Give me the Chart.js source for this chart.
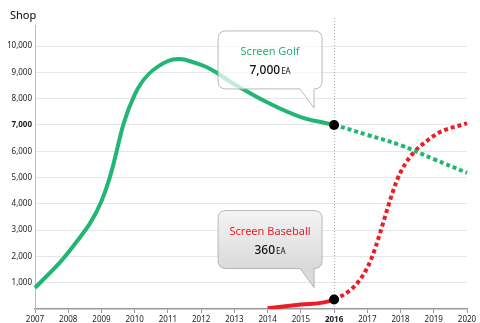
<!DOCTYPE html>
<html>
<head>
<meta charset="UTF-8">
<title>Shop</title>
<script src="https://cdn.jsdelivr.net/npm/chart.js"></script>
<style>
  html, body { margin: 0; padding: 0; background: #fff; }
</style>
</head>
<body>
<canvas id="shopChart" width="480" height="323"></canvas>
<script>
  const years = ['2007','2008','2009','2010','2011','2012','2013','2014','2015','2016','2017','2018','2019','2020'];
  const golfShops = [800, 2150, 4100, 8150, 9430, 9280, 8550, 7850, 7300, 7000, 6620, 6230, 5700, 5180];
  const baseballShops = [null, null, null, null, null, null, null, 30, 170, 360, 1570, 5200, 6580, 7070];
  const yTicks = [1000, 2000, 3000, 4000, 5000, 6000, 7000, 8000, 9000, 10000];
  const nowIndex = 9; // 2016

  const GREEN = '#22b573';
  const RED = '#ee1c25';
  const FONT = "'Noto Sans', sans-serif";

  // callout with a tail pointing near (px, py)
  function callout(ctx, px, py, dy, fill, title, color, value) {
    const w = 104, h = 58;
    const tipX = px - 20, tipY = py - dy;
    const bx = px - 116, by = tipY - 19 - h;
    ctx.save();
    ctx.beginPath();
    ctx.moveTo(bx + 8, by);
    ctx.lineTo(bx + w - 8, by);
    ctx.quadraticCurveTo(bx + w, by, bx + w, by + 8);
    ctx.lineTo(bx + w, by + h - 8);
    ctx.quadraticCurveTo(bx + w, by + h, bx + w - 8, by + h);
    ctx.lineTo(px - 20, by + h);
    ctx.lineTo(tipX, tipY);
    ctx.lineTo(px - 34, by + h);
    ctx.lineTo(bx + 8, by + h);
    ctx.quadraticCurveTo(bx, by + h, bx, by + h - 8);
    ctx.lineTo(bx, by + 8);
    ctx.quadraticCurveTo(bx, by, bx + 8, by);
    ctx.closePath();
    if (typeof fill === 'string') {
      ctx.fillStyle = fill;
    } else {
      const g = ctx.createLinearGradient(0, by, 0, by + h);
      g.addColorStop(0, fill[0]);
      g.addColorStop(1, fill[1]);
      ctx.fillStyle = g;
    }
    ctx.fill();
    ctx.strokeStyle = '#a8a8a8';
    ctx.lineWidth = 0.8;
    ctx.stroke();

    const cx = bx + w / 2;
    ctx.textBaseline = 'alphabetic';
    ctx.textAlign = 'center';
    ctx.fillStyle = color;
    ctx.font = '11px ' + FONT;
    ctx.fillText(title, cx, by + 24);

    ctx.font = '500 12px ' + FONT;
    const vw = ctx.measureText(value).width;
    ctx.font = '8px ' + FONT;
    const ew = ctx.measureText('EA').width;
    const sx = cx - (vw + ew + 1) / 2;
    ctx.textAlign = 'left';
    ctx.fillStyle = '#111';
    ctx.font = '500 12px ' + FONT;
    ctx.fillText(value, sx, by + 43);
    ctx.font = '8px ' + FONT;
    ctx.fillText('EA', sx + vw + 1, by + 43);
    ctx.restore();
  }

  const extras = {
    id: 'extras',
    beforeDatasetsDraw(chart) {
      const ctx = chart.ctx;
      const x = chart.scales.x.getPixelForValue(nowIndex);
      ctx.save();
      ctx.strokeStyle = '#aaa';
      ctx.lineWidth = 1;
      ctx.setLineDash([1, 2]);
      ctx.beginPath();
      ctx.moveTo(Math.round(x) + 0.5, 18);
      ctx.lineTo(Math.round(x) + 0.5, chart.chartArea.bottom);
      ctx.stroke();
      ctx.restore();
    },
    afterDatasetsDraw(chart) {
      const ctx = chart.ctx;
      const xs = chart.scales.x, ys = chart.scales.y;
      const px = xs.getPixelForValue(nowIndex);
      callout(ctx, px, ys.getPixelForValue(golfShops[nowIndex]), 17,
        'rgba(255,255,255,0.72)', 'Screen Golf', GREEN, '7,000');
      callout(ctx, px, ys.getPixelForValue(baseballShops[nowIndex]), 12,
        ['#f4f4f4', '#dadada'], 'Screen Baseball', RED, '360');
      ctx.save();
      ctx.fillStyle = '#000';
      ctx.font = '11px ' + FONT;
      ctx.textBaseline = 'alphabetic';
      ctx.fillText('Shop', 10, 19);
      ctx.restore();
    }
  };

  const dottedAfterNow = c => c.p0DataIndex >= nowIndex ? [4, 3] : undefined;
  const nowPoint = c => c.dataIndex === nowIndex ? 5 : 0;

  new Chart(document.getElementById('shopChart'), {
    type: 'line',
    data: {
      labels: years,
      datasets: [
        {
          label: 'Screen Golf',
          data: golfShops,
          borderColor: GREEN,
          borderWidth: 4,
          tension: 0.4,
          borderCapStyle: 'butt',
          segment: { borderDash: dottedAfterNow },
          pointRadius: nowPoint,
          pointBackgroundColor: '#000',
          pointBorderWidth: 0
        },
        {
          label: 'Screen Baseball',
          data: baseballShops,
          borderColor: RED,
          borderWidth: 4,
          cubicInterpolationMode: 'monotone',
          borderCapStyle: 'butt',
          segment: { borderDash: dottedAfterNow },
          pointRadius: nowPoint,
          pointBackgroundColor: '#000',
          pointBorderWidth: 0
        }
      ]
    },
    options: {
      responsive: false,
      animation: false,
      layout: { padding: { top: 25, right: 13, left: 0, bottom: 0 } },
      plugins: { legend: { display: false }, tooltip: { enabled: false } },
      scales: {
        x: {
          offset: false,
          grid: { display: true, drawOnChartArea: false, tickLength: 4, color: '#999' },
          border: { color: '#999', width: 1.5 },
          ticks: {
            color: '#222',
            padding: 2,
            maxRotation: 0,
            autoSkip: false,
            font: c => ({ family: FONT, size: 8, weight: c.index === nowIndex ? 'bold' : 'normal' })
          },
          afterFit: s => { s.height = 14; }
        },
        y: {
          min: 0,
          max: 10800,
          afterBuildTicks: s => { s.ticks = yTicks.map(v => ({ value: v })); },
          grid: { color: '#e6e6e6', drawTicks: false },
          border: { color: '#bbb' },
          ticks: {
            color: '#222',
            padding: 3,
            callback: v => v.toLocaleString('en-US'),
            font: c => ({ family: FONT, size: 8, weight: c.tick && c.tick.value === 7000 ? 'bold' : 'normal' })
          },
          afterFit: s => { s.width = 35; }
        }
      }
    },
    plugins: [extras]
  });
</script>
</body>
</html>
